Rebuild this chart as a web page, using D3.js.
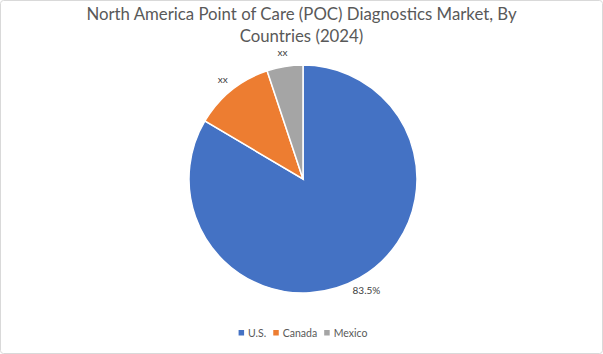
<!DOCTYPE html>
<html><head><meta charset="utf-8">
<script src="https://cdn.jsdelivr.net/npm/d3@7"></script>
<style>body{margin:0;background:#fff;}svg{display:block;}</style>
</head><body>
<script>
const categories = ["U.S.", "Canada", "Mexico"];
const values = [83.5, 11.4, 5.1];
const labels = ["83.5%", "xx", "xx"];
const colors = ["#4472C4", "#ED7D31", "#A5A5A5"];
const titleLines = ["North America Point of Care (POC) Diagnostics Market, By", "Countries (2024)"];

const W = 603, H = 354;
const svg = d3.select("body").append("svg").attr("width", W).attr("height", H);
svg.append("rect").attr("x", 0.5).attr("y", 0.5).attr("width", W - 1).attr("height", H - 1)
  .attr("rx", 3).attr("fill", "#fff").attr("stroke", "#d9d9d9");

const font = "Lato, 'Liberation Sans', sans-serif";
svg.append("g").selectAll("text").data(titleLines).join("text")
  .attr("x", W / 2).attr("y", (d, i) => 20 + i * 22)
  .attr("text-anchor", "middle").attr("font-family", font).attr("font-size", 16.8)
  .attr("fill", "#595959").text(d => d);

const cx = 303, cy = 179, r = 114;
const color = d3.scaleOrdinal().domain(categories).range(colors);
const data = categories.map((c, i) => ({ c, v: values[i], l: labels[i] }));
const pie = d3.pie().value(d => d.v).sort(null);
const arcs = pie(data);
const arc = d3.arc().innerRadius(0).outerRadius(r);
const labelArc = d3.arc().innerRadius(r + 14).outerRadius(r + 14);

const g = svg.append("g").attr("transform", `translate(${cx},${cy})`);
g.selectAll("path").data(arcs).join("path")
  .attr("d", arc).attr("fill", d => color(d.data.c))
  .attr("stroke", "#fff").attr("stroke-width", 1.5);
g.selectAll("text").data(arcs).join("text")
  .attr("transform", d => `translate(${labelArc.centroid(d)})`)
  .attr("text-anchor", "middle").attr("dy", "0.35em")
  .attr("font-family", font).attr("font-size", 10).attr("fill", "#404040")
  .text(d => d.data.l);

// legend
const lg = svg.append("g").attr("transform", "translate(0,333)");
const items = lg.selectAll("g").data(categories).join("g");
items.append("rect").attr("x", 0).attr("y", -3).attr("width", 5.5).attr("height", 5.5)
  .attr("fill", d => color(d));
items.append("text").attr("x", 9.5).attr("dy", "0.35em")
  .attr("font-family", font).attr("font-size", 10.5).attr("fill", "#595959").text(d => d);
let widths = [];
items.each(function () { widths.push(this.getBBox().width); });
const gap = 7;
const total = d3.sum(widths) + gap * (widths.length - 1);
let x0 = 303 - total / 2;
items.attr("transform", (d, i) => {
  const t = `translate(${x0},0)`; x0 += widths[i] + gap; return t;
});
</script>
</body></html>
